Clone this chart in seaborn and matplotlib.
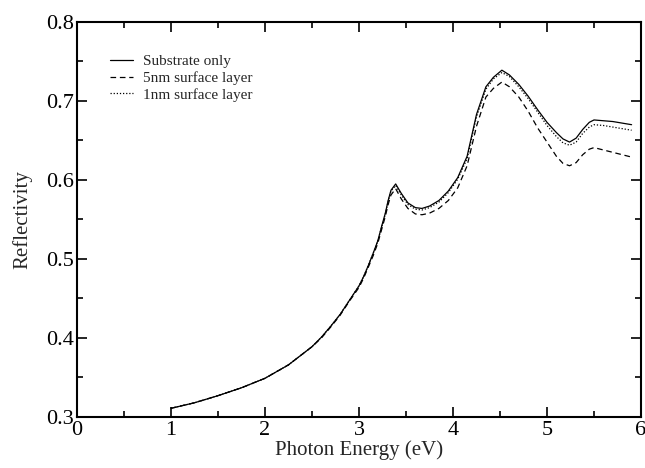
import matplotlib
matplotlib.use("Agg")
import matplotlib.pyplot as plt
import seaborn as sns
import pandas as pd

# photon energy grid (eV)
energy = [1.0, 1.25, 1.5, 1.75, 2.0, 2.25, 2.5, 2.6, 2.7, 2.8, 2.9, 3.0, 3.05,
          3.1, 3.15, 3.2, 3.24, 3.28, 3.31, 3.34, 3.39, 3.45, 3.52, 3.6, 3.67,
          3.75, 3.85, 3.95, 4.05, 4.15, 4.25, 4.35, 4.43, 4.52, 4.6, 4.7, 4.8,
          4.9, 5.0, 5.1, 5.17, 5.24, 5.31, 5.38, 5.45, 5.5, 5.6, 5.7, 5.8, 5.9]

substrate = [0.311, 0.318, 0.327, 0.337, 0.349, 0.366, 0.389, 0.401, 0.415, 0.430,
             0.448, 0.466, 0.478, 0.492, 0.507, 0.523, 0.541, 0.558, 0.574, 0.587,
             0.595, 0.583, 0.571, 0.565, 0.564, 0.567, 0.574, 0.586, 0.603, 0.630,
             0.683, 0.718, 0.730, 0.739, 0.733, 0.721, 0.706, 0.689, 0.673, 0.660,
             0.652, 0.648, 0.653, 0.664, 0.673, 0.676, 0.675, 0.674, 0.672, 0.670]

layer_5nm = [0.311, 0.318, 0.327, 0.337, 0.349, 0.366, 0.389, 0.400, 0.414, 0.429,
             0.447, 0.464, 0.476, 0.490, 0.504, 0.520, 0.537, 0.554, 0.569, 0.581,
             0.589, 0.576, 0.564, 0.557, 0.556, 0.558, 0.564, 0.574, 0.590, 0.618,
             0.668, 0.705, 0.716, 0.724, 0.718, 0.705, 0.687, 0.666, 0.648, 0.630,
             0.621, 0.618, 0.622, 0.632, 0.639, 0.641, 0.638, 0.635, 0.632, 0.629]

layer_1nm = [0.311, 0.318, 0.327, 0.337, 0.349, 0.366, 0.389, 0.401, 0.415, 0.430,
             0.448, 0.466, 0.478, 0.492, 0.507, 0.523, 0.540, 0.557, 0.573, 0.586,
             0.593, 0.581, 0.569, 0.563, 0.562, 0.565, 0.572, 0.584, 0.601, 0.627,
             0.680, 0.715, 0.728, 0.736, 0.731, 0.718, 0.703, 0.686, 0.669, 0.655,
             0.647, 0.644, 0.648, 0.659, 0.667, 0.670, 0.669, 0.667, 0.665, 0.663]

labels = ["Substrate only", "5nm surface layer", "1nm surface layer"]

sns.set_style("ticks")
plt.rcParams["font.family"] = ["Liberation Serif", "DejaVu Serif"]

fig = plt.figure(figsize=(6.45, 4.68), dpi=100)
ax = fig.add_axes([0.1194, 0.109, 0.8744, 0.844])

styles = ["-", (0, (4.5, 3)), (0, (1, 1.5))]
for vals, lab, ls in zip([substrate, layer_5nm, layer_1nm], labels, styles):
    df = pd.DataFrame({"E": energy, "R": vals})
    sns.lineplot(data=df, x="E", y="R", ax=ax, color="black", lw=0.9,
                 linestyle=ls, label=lab)

ax.set_xlim(0, 6)
ax.set_ylim(0.3, 0.8)
ax.set_xticks([0, 1, 2, 3, 4, 5, 6])
ax.set_xticks([0.5, 1.5, 2.5, 3.5, 4.5, 5.5], minor=True)
ax.set_yticks([0.3, 0.4, 0.5, 0.6, 0.7, 0.8])
ax.set_yticks([0.35, 0.45, 0.55, 0.65, 0.75], minor=True)
ax.tick_params(which="both", direction="in", top=True, right=True,
               labelsize=16, width=1.2, colors="black")
ax.tick_params(axis="x", pad=3)
ax.tick_params(axis="y", pad=2)
ax.tick_params(which="major", length=7)
ax.tick_params(which="minor", length=4)
for s in ax.spines.values():
    s.set_linewidth(1.5)
    s.set_color("black")

ax.set_xlabel("Photon Energy (eV)", fontsize=15, labelpad=0)
ax.set_ylabel("Reflectivity", fontsize=15, labelpad=10)

ax.legend(loc="upper left", bbox_to_anchor=(0.058, 0.918), frameon=False,
          fontsize=11, handlelength=1.5, handletextpad=0.65, labelspacing=0.2,
          borderpad=0, borderaxespad=0)

fig.savefig("out.png", dpi=100)
